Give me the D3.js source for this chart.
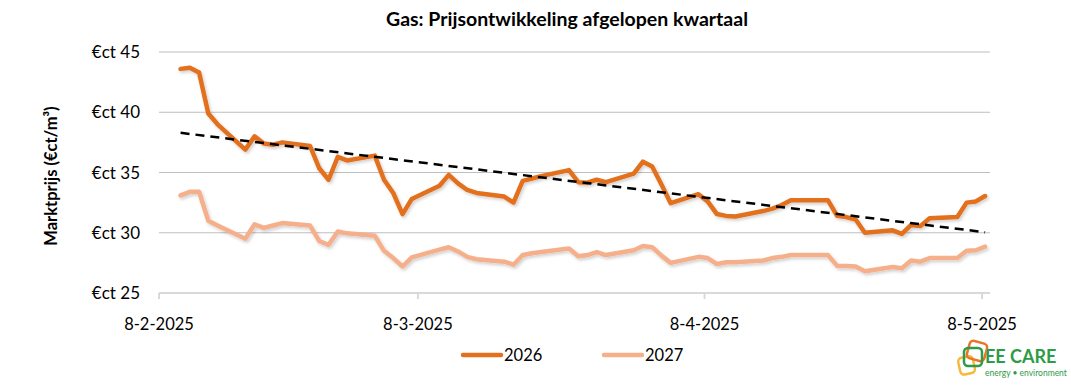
<!DOCTYPE html>
<html>
<head>
<meta charset="utf-8">
<script src="https://cdn.jsdelivr.net/npm/d3@7"></script>
<style>
  body { margin: 0; background: #fff; }
  svg { font-family: Lato, "Open Sans", sans-serif; }
</style>
</head>
<body>
<svg id="chart" width="1071" height="385"></svg>
<script>
// dagen met notering (werkdagen, feestdagen doorgetrokken)
var dates = ["2025-02-10","2025-02-11","2025-02-12","2025-02-13","2025-02-14",
  "2025-02-17","2025-02-18","2025-02-19","2025-02-20","2025-02-21",
  "2025-02-24","2025-02-25","2025-02-26","2025-02-27","2025-02-28",
  "2025-03-03","2025-03-04","2025-03-05","2025-03-06","2025-03-07",
  "2025-03-10","2025-03-11","2025-03-12","2025-03-13","2025-03-14",
  "2025-03-17","2025-03-18","2025-03-19","2025-03-20","2025-03-21",
  "2025-03-24","2025-03-25","2025-03-26","2025-03-27","2025-03-28",
  "2025-03-31","2025-04-01","2025-04-02","2025-04-03","2025-04-04",
  "2025-04-07","2025-04-08","2025-04-09","2025-04-10","2025-04-11",
  "2025-04-14","2025-04-15","2025-04-16","2025-04-17","2025-04-18",
  "2025-04-21","2025-04-22","2025-04-23","2025-04-24","2025-04-25",
  "2025-04-28","2025-04-29","2025-04-30","2025-05-01","2025-05-02",
  "2025-05-05","2025-05-06","2025-05-07","2025-05-08"]

var cal2026 = [43.6,43.7,43.3,39.9,39.0,
  36.9,38.0,37.4,37.3,37.5,
  37.2,35.35,34.4,36.3,36.0,
  36.4,34.4,33.3,31.55,32.8,
  33.9,34.8,34.1,33.55,33.3,
  33.0,32.5,34.3,34.5,34.7,
  35.2,34.2,34.15,34.4,34.2,
  34.9,35.9,35.5,34.0,32.45,
  33.2,32.6,31.55,31.4,31.35,
  31.8,32.0,32.3,32.7,32.7,
  32.7,31.4,31.3,31.1,30.0,
  30.2,29.9,30.65,30.55,31.2,
  31.3,32.5,32.6,33.05]

var cal2027 = [33.1,33.4,33.4,31.0,30.6,
  29.5,30.7,30.4,30.6,30.8,
  30.6,29.3,29.0,30.1,29.95,
  29.75,28.5,27.9,27.2,27.95,
  28.6,28.8,28.45,28.0,27.8,
  27.6,27.35,28.15,28.3,28.4,
  28.7,28.05,28.15,28.4,28.15,
  28.55,28.9,28.8,28.1,27.5,
  28.0,27.9,27.4,27.55,27.55,
  27.7,27.9,28.0,28.15,28.15,
  28.15,27.25,27.25,27.2,26.8,
  27.15,27.05,27.7,27.6,27.9,
  27.9,28.5,28.55,28.85]

var yTicks = [25, 30, 35, 40, 45]
var xTicks = ["2025-02-08","2025-03-08","2025-04-08","2025-05-08"]
var seriesNames = ["2026", "2027"]
var colors = ["#E3701E", "#F5B08B"]

var parse = d3.timeParse("%Y-%m-%d")
var fmt = d3.timeFormat("%-d-%-m-%Y")

var svg = d3.select("#chart")

var x = d3.scaleTime()
    .domain([parse(xTicks[0]), parse(xTicks[xTicks.length - 1])])
    .range([159, 982])
var y = d3.scaleLinear().domain([25, 45]).range([293, 52])
var plotRight = 990

// punten staan iets na middernacht, zoals in Excel
function px(d) { return x(d3.timeHour.offset(d, 8)) }

// shadow
var defs = svg.append("defs")
var f = defs.append("filter").attr("id", "shadow").attr("x", "-5%").attr("y", "-20%")
    .attr("width", "110%").attr("height", "140%")
f.append("feDropShadow").attr("dx", 1.5).attr("dy", 2).attr("stdDeviation", 1.5)
    .attr("flood-color", "#000").attr("flood-opacity", 0.18)

// title
svg.append("text")
    .attr("x", 567).attr("y", 26)
    .attr("text-anchor", "middle")
    .attr("font-weight", "bold")
    .attr("font-size", 19.5)
    .text("Gas: Prijsontwikkeling afgelopen kwartaal")

// gridlines
svg.append("g").selectAll("line")
    .data(yTicks.slice(1))
    .enter().append("line")
    .attr("x1", 159).attr("x2", plotRight)
    .attr("y1", d => y(d)).attr("y2", d => y(d))
    .attr("stroke", "#BFBFBF").attr("stroke-width", 1)

// y labels
svg.append("g").selectAll("text")
    .data(yTicks)
    .enter().append("text")
    .attr("x", 140).attr("y", d => y(d) + 6)
    .attr("text-anchor", "end")
    .attr("font-size", 17)
    .text(d => "€ct " + d)

// y title
svg.append("text")
    .attr("transform", "translate(57,176) rotate(-90)")
    .attr("text-anchor", "middle")
    .attr("font-weight", "bold")
    .attr("font-size", 16.5)
    .text("Marktprijs (€ct/m³)")

// x axis
svg.append("line")
    .attr("x1", 159).attr("x2", plotRight)
    .attr("y1", y(25)).attr("y2", y(25))
    .attr("stroke", "#D9D9D9").attr("stroke-width", 2)

svg.append("g").selectAll("line")
    .data(xTicks)
    .enter().append("line")
    .attr("x1", d => x(parse(d))).attr("x2", d => x(parse(d)))
    .attr("y1", y(25)).attr("y2", y(25) + 6)
    .attr("stroke", "#D9D9D9").attr("stroke-width", 2)

svg.append("g").selectAll("text")
    .data(xTicks)
    .enter().append("text")
    .attr("x", d => x(parse(d))).attr("y", 330)
    .attr("text-anchor", "middle")
    .attr("font-size", 16.5)
    .text(d => fmt(parse(d)))

// series
var parsed = dates.map(parse)
var line = d3.line()
    .x((d, i) => px(parsed[i]))
    .y(d => y(d))

;[cal2026, cal2027].forEach(function (vals, k) {
    svg.append("path")
        .datum(vals)
        .attr("d", line)
        .attr("fill", "none")
        .attr("stroke", colors[k])
        .attr("stroke-width", 4.5)
        .attr("stroke-linejoin", "round")
        .attr("stroke-linecap", "round")
        .attr("filter", "url(#shadow)")
})

// lineaire trend 2026
var xs = parsed.map(d => (d - parsed[0]) / 864e5)
var mx = d3.mean(xs), my = d3.mean(cal2026)
var slope = d3.sum(xs, (v, i) => (v - mx) * (cal2026[i] - my)) / d3.sum(xs, v => (v - mx) * (v - mx))
var icpt = my - slope * mx
var trend = [0, xs.length - 1].map(i => [px(parsed[i]), y(icpt + slope * xs[i])])

svg.append("path")
    .attr("d", d3.line()(trend))
    .attr("fill", "none")
    .attr("stroke", "#000")
    .attr("stroke-width", 2.5)
    .attr("stroke-dasharray", "9,6")

// legend
var leg = svg.append("g").selectAll("g")
    .data(seriesNames)
    .enter().append("g")
    .attr("transform", (d, i) => "translate(" + [463, 604][i] + ",355)")
leg.append("line")
    .attr("x1", 0).attr("x2", 38)
    .attr("stroke", (d, i) => colors[i])
    .attr("stroke-width", 4.5).attr("stroke-linecap", "round")
leg.append("text")
    .attr("x", 41).attr("y", 6)
    .attr("font-size", 16.5)
    .text(d => d)

// logo
var logo = svg.append("g").attr("transform", "translate(950,335)")
logo.append("rect").attr("x", 9).attr("y", 22).attr("width", 15).attr("height", 17).attr("rx", 4)
    .attr("fill", "none").attr("stroke", "#F6B93B").attr("stroke-width", 2.5)
    .attr("transform", "rotate(-12,16,30)")
logo.append("rect").attr("x", 18).attr("y", 7).attr("width", 18).attr("height", 18).attr("rx", 4)
    .attr("fill", "none").attr("stroke", "#E9742B").attr("stroke-width", 2.5)
    .attr("transform", "rotate(15,27,16)")
logo.append("rect").attr("x", 14).attr("y", 13).attr("width", 18).attr("height", 18).attr("rx", 4)
    .attr("fill", "none").attr("stroke", "#2E9B45").attr("stroke-width", 2.5)
logo.append("text").attr("x", 35).attr("y", 28)
    .attr("font-size", 18).attr("font-weight", "bold").attr("fill", "#2E9B45")
    .text("EE CARE")
logo.append("text").attr("x", 35).attr("y", 41)
    .attr("font-size", 8.5).attr("fill", "#2E9B45")
    .text("energy • environment")
</script>
</body>
</html>
